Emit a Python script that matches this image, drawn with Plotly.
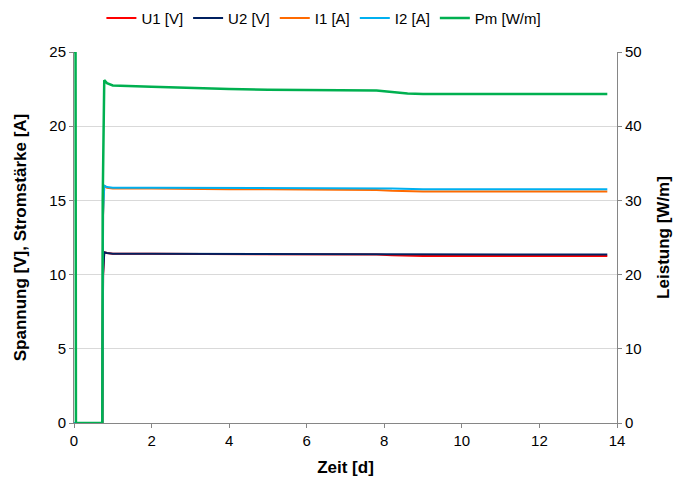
import plotly.graph_objects as go

# time axis [d]
t_pm = [0, 0.04, 0.05, 0.73, 0.74, 0.76, 0.78, 0.85, 1.0, 2, 3, 4, 5, 6, 7, 7.8, 8.2, 8.6, 9, 10, 11, 12, 13, 13.75]
pm = [50, 50, 0, 0, 30, 40, 46.2, 45.8, 45.5, 45.3, 45.1, 45.0, 44.9, 44.9, 44.8, 44.8, 44.6, 44.4, 44.35, 44.35, 44.35, 44.35, 44.35, 44.35]

t_ui = [0, 0.73, 0.75, 0.78, 0.85, 1.0, 2, 3, 4, 5, 6, 7, 7.8, 8.2, 9, 10, 11, 12, 13, 13.75]
u1 = [0, 0, 10.0, 11.5, 11.45, 11.4, 11.4, 11.4, 11.4, 11.4, 11.4, 11.4, 11.35, 11.3, 11.25, 11.25, 11.25, 11.25, 11.25, 11.25]
u2 = [0, 0, 10.0, 11.5, 11.45, 11.4, 11.4, 11.4, 11.4, 11.4, 11.4, 11.4, 11.4, 11.4, 11.35, 11.35, 11.35, 11.35, 11.35, 11.35]
i1 = [0, 0, 14.0, 16.0, 15.85, 15.8, 15.8, 15.75, 15.75, 15.75, 15.75, 15.75, 15.7, 15.65, 15.6, 15.6, 15.6, 15.6, 15.6, 15.6]
i2 = [0, 0, 14.0, 16.0, 15.9, 15.85, 15.85, 15.85, 15.8, 15.8, 15.8, 15.8, 15.8, 15.8, 15.75, 15.75, 15.75, 15.75, 15.75, 15.75]

names = ["U1 [V]", "U2 [V]", "I1 [A]", "I2 [A]", "Pm [W/m]"]
colors = ["#FF0000", "#002060", "#FF6A00", "#00B0F0", "#00B050"]

fig = go.Figure()
for name, y, c in zip(names[:4], [u1, u2, i1, i2], colors[:4]):
    fig.add_trace(go.Scatter(x=t_ui, y=y, name=name, mode="lines",
                             line=dict(color=c, width=2)))
fig.add_trace(go.Scatter(x=t_pm, y=pm, name=names[4], mode="lines",
                         line=dict(color=colors[4], width=2.5), yaxis="y2"))

font = "Liberation Sans, Arial, sans-serif"
fig.update_layout(
    width=675, height=469,
    margin=dict(l=66, r=66, t=44, b=54, autoexpand=False),
    plot_bgcolor="white", paper_bgcolor="white",
    font=dict(family=font, size=15, color="black"),
    showlegend=True,
    legend=dict(orientation="h", xref="container", x=0.468, xanchor="center",
                yref="container", y=0.978, yanchor="middle",
                font=dict(size=15), itemwidth=30,
                traceorder="normal"),
    xaxis=dict(range=[0, 14], dtick=2, showgrid=False, zeroline=False,
               showline=True, linecolor="#868686", linewidth=1,
               ticks="outside", ticklen=4, tickcolor="#868686", automargin=False,
               title=dict(text="<b>Zeit [d]</b>", font=dict(size=17), standoff=13)),
    yaxis=dict(range=[0, 25], dtick=5, showgrid=True, gridcolor="#D9D9D9",
               zeroline=False, showline=True, linecolor="#868686", automargin=False,
               ticks="outside", ticklen=4, tickcolor="#868686",
               title=dict(text="<b>Spannung [V], Stromstärke [A]</b>", font=dict(size=17), standoff=18)),
    yaxis2=dict(range=[0, 50], dtick=10, overlaying="y", side="right", automargin=False,
                showgrid=False, zeroline=False, showline=True, linecolor="#868686",
                ticks="outside", ticklen=4, tickcolor="#868686",
                title=dict(text="<b>Leistung [W/m]</b>", font=dict(size=17), standoff=16)),
)
fig.write_html("out.html")
